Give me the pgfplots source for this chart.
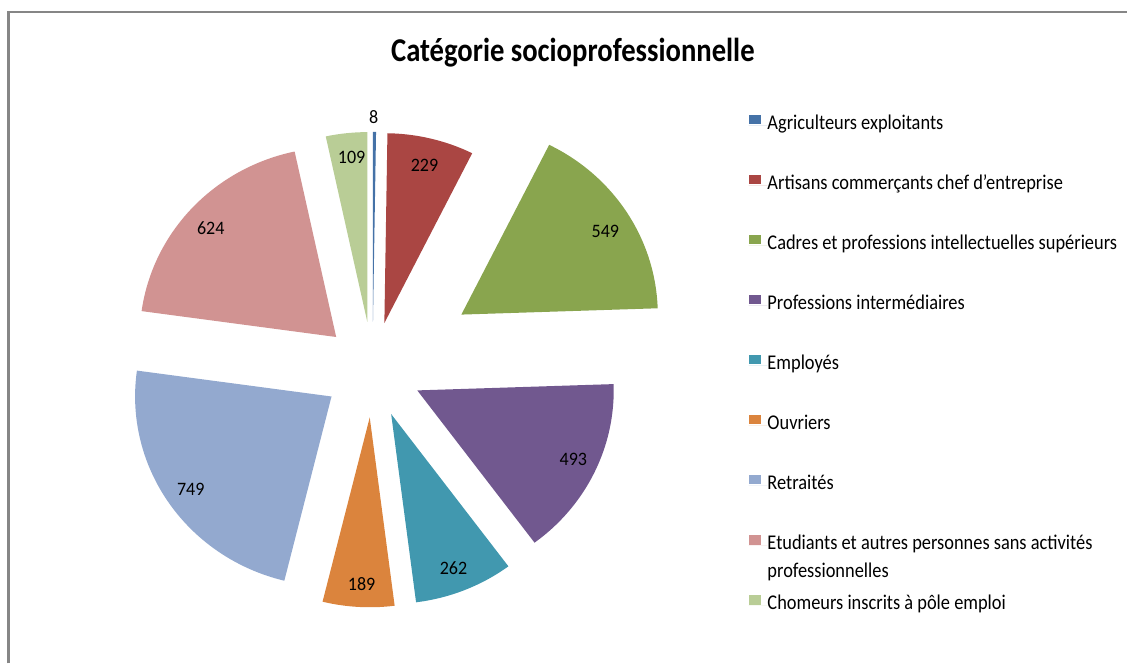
\documentclass[border=0pt]{standalone}
\usepackage{fontspec}
\setmainfont{Carlito}
\usepackage{graphicx}
\usepackage{pgfplots}
\pgfplotsset{compat=1.18}

\definecolor{cA}{HTML}{4572A7}
\definecolor{cB}{HTML}{AA4643}
\definecolor{cC}{HTML}{89A54E}
\definecolor{cD}{HTML}{71588F}
\definecolor{cE}{HTML}{4198AF}
\definecolor{cF}{HTML}{DB843D}
\definecolor{cG}{HTML}{93A9CF}
\definecolor{cH}{HTML}{D19392}
\definecolor{cI}{HTML}{B9CD96}
\definecolor{frame}{HTML}{868686}

% #1 cumulative count before the slice, #2 value, #3 colour, #4 explosion (px)
\newcommand\slice[4]{%
  \pgfmathsetmacro\slA{90-(#1)/3212*360}%
  \pgfmathsetmacro\slB{90-((#1)+(#2))/3212*360}%
  \pgfmathsetmacro\slM{(\slA+\slB)/2}%
  \pgfmathsetmacro\slX{373+1.035*#4*cos(\slM)}%
  \pgfmathsetmacro\slY{370-#4*sin(\slM)}%
  \edef\doslice{\noexpand\addplot[fill=#3, draw=none, domain=\slB:\slA, samples=60, variable=\noexpand\t]
    ({\slX+196.65*cos(\noexpand\t)},{\slY-190*sin(\noexpand\t)}) -- (axis cs:\slX,\slY) -- cycle;}%
  \doslice}

\newcommand\lab[1]{\scalebox{0.95}[1]{\fontsize{11.4}{13}\selectfont #1}}
\newcommand\leg[1]{\scalebox{0.876}[1]{#1}}

\begin{document}
\begin{tikzpicture}
\begin{axis}[
  x=0.6pt, y=0.6pt, y dir=reverse,
  xmin=0, xmax=1128, ymin=0, ymax=664,
  hide axis, clip=false, scale only axis,
  legend style={at={(axis cs:749,114.7)}, anchor=north west, draw=none, fill=none,
    inner sep=0pt, row sep=24.35pt, font=\fontsize{12.6}{16.8}\selectfont,
    nodes={inner sep=0pt, text height=8pt, text depth=3pt}, cells={anchor=west}},
  legend image code/.code={\fill[#1] (0pt,0.5pt) rectangle (7.4pt,6.2pt); \path (0pt,0pt) -- (11.4pt,0pt);},
]
\path (axis cs:0,0) rectangle (axis cs:1128,664);

\slice{0}{8}{cA}{48}
\addlegendentry{\leg{Agriculteurs exploitants}}
\slice{8}{229}{cB}{48}
\addlegendentry{\leg{Artisans commerçants chef d'entreprise}}
\slice{237}{549}{cC}{102}
\addlegendentry{\leg{Cadres et professions intellectuelles supérieurs}}
\slice{786}{493}{cD}{48}
\addlegendentry{\leg{Professions intermédiaires}}
\slice{1279}{262}{cE}{48}
\addlegendentry{\leg{Employés}}
\slice{1541}{189}{cF}{48}
\addlegendentry{\leg{Ouvriers}}
\slice{1730}{749}{cG}{48}
\addlegendentry{\leg{Retraités}}
\slice{2479}{624}{cH}{48}
\addlegendentry{\leg{\begin{tabular}[t]{@{}l@{}}Etudiants et autres personnes sans activités\\professionnelles\end{tabular}}}
\slice{3103}{109}{cI}{48}
\addlegendentry{\leg{Chomeurs inscrits à pôle emploi}}

\node at (axis cs:374,117) {\lab{8}};
\node at (axis cs:425,166) {\lab{229}};
\node at (axis cs:606,232) {\lab{549}};
\node at (axis cs:574,460) {\lab{493}};
\node at (axis cs:454,569) {\lab{262}};
\node at (axis cs:362,585) {\lab{189}};
\node at (axis cs:191,490) {\lab{749}};
\node at (axis cs:211,228) {\lab{624}};
\node at (axis cs:352,158) {\lab{109}};

\node[anchor=base, inner sep=0pt] at (axis cs:573.5,61.5) {\scalebox{0.86}[1]{\bfseries\fontsize{20}{24}\selectfont Catégorie socioprofessionnelle}};

\draw[frame, line width=1.5pt] (axis cs:8.5,664) -- (axis cs:8.5,12) -- (axis cs:1128,12);
\end{axis}
\end{tikzpicture}
\end{document}
